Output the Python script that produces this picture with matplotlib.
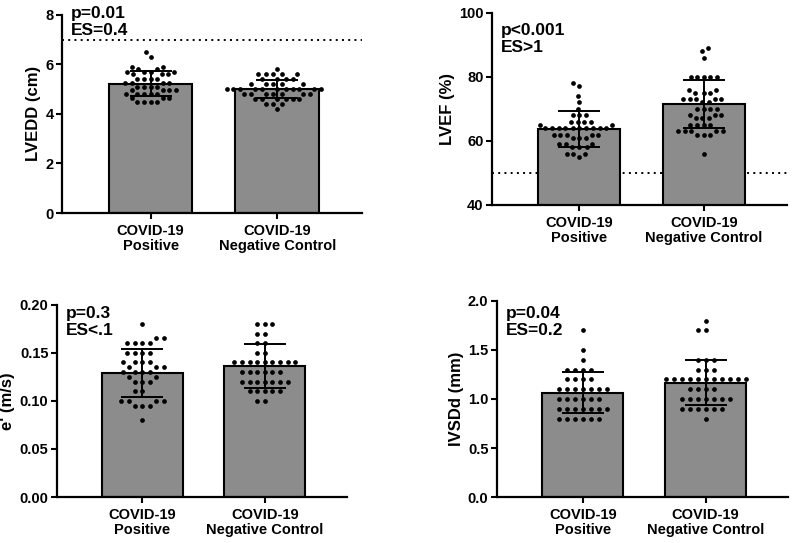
"""
Four echo parameters, COVID-19 positive vs negative control:
bar = mean, error bar = SD, dots = individual patients.
"""

import numpy as np
import matplotlib
matplotlib.use("Agg")
import matplotlib.pyplot as plt

plt.rcParams['font.family'] = ['Liberation Sans', 'DejaVu Sans']
plt.rcParams['font.weight'] = 'bold'
plt.rcParams['axes.labelweight'] = 'bold'

groups = ['COVID-19\nPositive', 'COVID-19\nNegative Control']

# LVEDD (cm)
lvedd_pos = [6.5, 6.3, 5.9, 5.9, 5.8, 5.8, 5.7, 5.7, 5.7, 5.7, 5.6, 5.6, 5.6,
             5.4, 5.4, 5.4, 5.4, 5.25, 5.25, 5.25, 5.25, 5.1, 5.1, 5.1, 5.1,
             4.95, 4.95, 4.95, 4.95, 4.8, 4.8, 4.8, 4.8, 4.8, 4.65, 4.65, 4.65,
             4.5, 4.5, 4.5, 4.5]
lvedd_neg = [5.8, 5.6, 5.6, 5.6, 5.6, 5.6, 5.4, 5.4, 5.4, 5.4, 5.2, 5.2, 5.2,
             5.2, 5.2, 5.0, 5.0, 5.0, 5.0, 5.0, 5.0, 5.0, 5.0, 5.0, 5.0, 5.0,
             4.8, 4.8, 4.8, 4.8, 4.8, 4.8, 4.8, 4.6, 4.6, 4.6, 4.6, 4.6, 4.6,
             4.4, 4.4, 4.4, 4.2]
lvedd_mean = [5.22, 5.00]
lvedd_sd = [0.50, 0.37]

# LVEF (%)
lvef_pos = [78, 77, 74, 72, 70, 68, 68, 68, 66, 66, 66, 66, 65, 65,
            64, 64, 64, 64, 64, 64, 64, 64, 64, 64, 62, 62, 62, 62, 62,
            61, 61, 61, 59, 59, 59, 58, 58, 58, 56, 56, 56, 55]
lvef_neg = [89, 88, 86, 80, 80, 80, 80, 80, 76, 76, 75, 75, 75,
            73, 73, 73, 73, 73, 72, 72, 70, 70, 70, 70, 68, 68, 68,
            67, 67, 67, 65, 65, 65, 65, 63, 63, 63, 63, 63, 62, 62, 62, 56]
lvef_mean = [63.8, 71.5]
lvef_sd = [5.6, 7.6]

# e' (m/s)
e_pos = [0.18, 0.165, 0.165, 0.16, 0.16, 0.16, 0.16, 0.15, 0.15, 0.15, 0.15,
         0.14, 0.14, 0.14, 0.14, 0.135, 0.135, 0.135, 0.13, 0.13, 0.13, 0.13,
         0.125, 0.125, 0.12, 0.12, 0.12, 0.11, 0.11, 0.10, 0.10, 0.10, 0.10,
         0.095, 0.095, 0.095, 0.08]
e_neg = [0.18, 0.18, 0.18, 0.17, 0.17, 0.16, 0.16, 0.15, 0.15,
         0.14, 0.14, 0.14, 0.14, 0.14, 0.14, 0.14, 0.14, 0.14,
         0.13, 0.13, 0.13, 0.13, 0.13, 0.13, 0.12, 0.12, 0.12, 0.12, 0.12,
         0.12, 0.12, 0.11, 0.11, 0.11, 0.11, 0.11, 0.10, 0.10]
e_mean = [0.129, 0.136]
e_sd = [0.025, 0.023]

# IVSDd (mm)
ivsd_pos = [1.7, 1.5, 1.4, 1.3, 1.3, 1.3, 1.3, 1.2, 1.2, 1.2, 1.2,
            1.1, 1.1, 1.1, 1.1, 1.1, 1.1, 1.1, 1.0, 1.0, 1.0, 1.0, 1.0, 1.0,
            0.9, 0.9, 0.9, 0.9, 0.9, 0.9, 0.9, 0.8, 0.8, 0.8, 0.8, 0.8, 0.8]
ivsd_neg = [1.8, 1.7, 1.7, 1.4, 1.4, 1.4, 1.3, 1.3, 1.3,
            1.2, 1.2, 1.2, 1.2, 1.2, 1.2, 1.2, 1.2, 1.2, 1.2, 1.2,
            1.1, 1.1, 1.1, 1.1, 1.0, 1.0, 1.0, 1.0, 1.0, 1.0, 1.0,
            0.9, 0.9, 0.9, 0.9, 0.9, 0.9, 0.8]
ivsd_mean = [1.065, 1.165]
ivsd_sd = [0.21, 0.23]

BAR_COLOR = '#8c8c8c'


def swarm_offsets(ax, values, gap):
    """Simple beeswarm in pixel space, returns x offsets in data units."""
    ys = ax.transData.transform(np.column_stack([np.zeros(len(values)), values]))[:, 1]
    px_per_unit = ax.transData.transform((1, 0))[0] - ax.transData.transform((0, 0))[0]
    placed = []
    offs = np.zeros(len(values))
    for i in np.argsort(ys):
        y = ys[i]
        near = [(px, py) for px, py in placed if abs(py - y) < gap]
        cands = [0.0]
        for px, py in near:
            dx = np.sqrt(gap ** 2 - (py - y) ** 2)
            cands += [px - dx, px + dx]
        cands.sort(key=lambda c: (abs(c), c))
        for c in cands:
            if all((c - px) ** 2 + (y - py) ** 2 >= gap ** 2 - 1e-6 for px, py in near):
                break
        offs[i] = c
        placed.append((c, y))
    return offs / px_per_unit


def panel(rect, data, means, sds, ylim, yticks, yfmt, ylabel, note, note_y,
          gap=7.6, refline=None):
    ax = fig.add_axes(rect)
    x = np.arange(len(groups))
    ax.set_xlim(-0.7, 1.67)
    ax.set_ylim(*ylim)
    if refline is not None:
        ax.axhline(refline, color='black', ls=(0, (1, 2.2)), lw=1.4, zorder=0.5)
    ax.bar(x, means, width=0.66, color=BAR_COLOR, edgecolor='black',
           linewidth=1.5, zorder=1)
    for xi, vals in zip(x, data):
        off = swarm_offsets(ax, vals, gap)
        ax.plot(xi + off, vals, 'o', color='black', ms=3.4, mec='none',
                zorder=3, clip_on=False)
    ax.errorbar(x, means, yerr=sds, fmt='none', ecolor='black', elinewidth=1.4,
                capsize=15, capthick=1.4, zorder=4)
    ax.set_yticks(yticks)
    ax.set_yticklabels([yfmt.format(t) for t in yticks])
    ax.set_xticks(x)
    ax.set_xticklabels(groups, fontsize=10.5, linespacing=1.1)
    ax.tick_params(axis='y', labelsize=10.5, width=1.5, length=4, pad=2)
    ax.tick_params(axis='x', width=1.5, length=4, pad=4)
    for s in ('top', 'right'):
        ax.spines[s].set_visible(False)
    for s in ('left', 'bottom'):
        ax.spines[s].set_linewidth(1.6)
    ax.set_ylabel(ylabel, fontsize=12, labelpad=3)
    ax.text(0.03, note_y, note, transform=ax.transAxes, fontsize=12.5,
            va='top', ha='left', linespacing=1.15)
    return ax


fig = plt.figure(figsize=(8, 5.43), dpi=100)

panel([0.0775, 0.6077, 0.375, 0.365], [lvedd_pos, lvedd_neg], lvedd_mean, lvedd_sd,
      (0, 8), [0, 2, 4, 6, 8], '{:g}', 'LVEDD (cm)', 'p=0.01\nES=0.4', 1.045,
      gap=6.6, refline=7)
panel([0.615, 0.6225, 0.369, 0.354], [lvef_pos, lvef_neg], lvef_mean, lvef_sd,
      (40, 100), [40, 60, 80, 100], '{:g}', 'LVEF (%)', 'p<0.001\nES>1', 0.945,
      gap=6.6, refline=50)
panel([0.071, 0.0847, 0.3625, 0.354], [e_pos, e_neg], e_mean, e_sd,
      (0, 0.2), [0, 0.05, 0.10, 0.15, 0.20], '{:.2f}', "e' (m/s)", 'p=0.3\nES<.1', 0.995)
panel([0.621, 0.0847, 0.364, 0.361], [ivsd_pos, ivsd_neg], ivsd_mean, ivsd_sd,
      (0, 2.0), [0, 0.5, 1.0, 1.5, 2.0], '{:.1f}', 'IVSDd (mm)', 'p=0.04\nES=0.2', 0.975,
      gap=8.0)

fig.savefig('out.png', dpi=100)
